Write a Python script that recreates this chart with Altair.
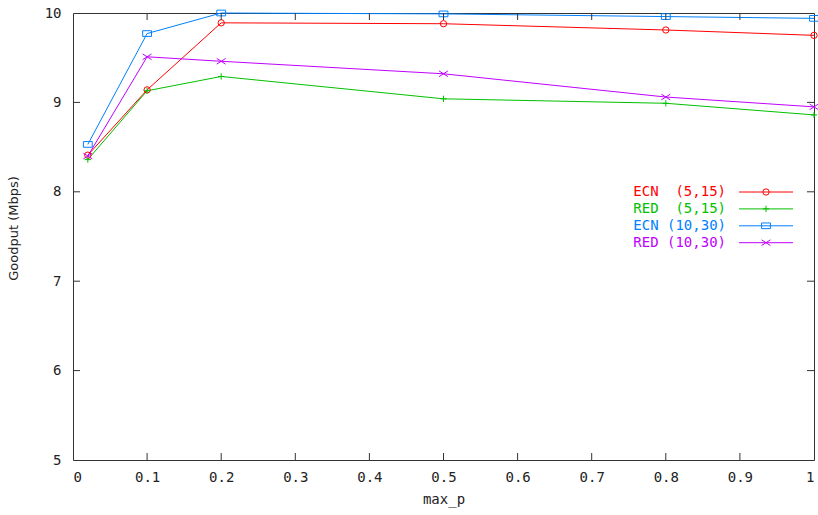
import altair as alt
import pandas as pd

# max_p settings on the x axis
max_p = [0.02, 0.1, 0.2, 0.5, 0.8, 1.0]

# Goodput (Mbps) for each queue configuration
series_names = ["ECN\u00a0\u00a0(5,15)", "RED\u00a0\u00a0(5,15)", "ECN\u00a0(10,30)", "RED\u00a0(10,30)"]
ecn_5_15 = [8.41, 9.14, 9.89, 9.88, 9.81, 9.75]
red_5_15 = [8.36, 9.13, 9.29, 9.04, 8.99, 8.86]
ecn_10_30 = [8.53, 9.77, 10.0, 9.99, 9.96, 9.94]
red_10_30 = [8.40, 9.51, 9.46, 9.32, 9.06, 8.95]

x_ticks = [0, 0.1, 0.2, 0.3, 0.4, 0.5, 0.6, 0.7, 0.8, 0.9, 1.0]
y_ticks = [5, 6, 7, 8, 9, 10]

colors = ["#ff0000", "#00c000", "#0080ff", "#c000ff"]
shapes = [
    "circle",
    "M-1,0L1,0M0,-1L0,1",
    "M-1.4,-0.9L1.4,-0.9L1.4,0.9L-1.4,0.9Z",
    "M-1.4,-0.9L1.4,0.9M-1.4,0.9L1.4,-0.9",
]

W, H = 741, 447
MONO = "DejaVu Sans Mono"

rows = []
for name, vals in zip(series_names, [ecn_5_15, red_5_15, ecn_10_30, red_10_30]):
    for xv, yv in zip(max_p, vals):
        rows.append({"series": name, "max_p": xv, "goodput": yv})
df = pd.DataFrame(rows)

color_scale = alt.Scale(domain=series_names, range=colors)
shape_scale = alt.Scale(domain=series_names, range=shapes)
x_scale = alt.Scale(domain=[0, 1], nice=False, zero=False)
y_scale = alt.Scale(domain=[5, 10], nice=False, zero=False)

base = alt.Chart(df)

lines = base.mark_line(strokeWidth=1).encode(
    x=alt.X(
        "max_p:Q",
        scale=x_scale,
        axis=alt.Axis(values=x_ticks, format="~g", title="max_p"),
    ),
    y=alt.Y(
        "goodput:Q",
        scale=y_scale,
        axis=alt.Axis(values=y_ticks, format="d", title="Goodput (Mbps)",
                      titleX=-53, titleY=215),
    ),
    color=alt.Color("series:N", scale=color_scale, legend=None),
    detail="series:N",
)

points = base.mark_point(filled=False, size=40, strokeWidth=1, opacity=1).encode(
    x="max_p:Q",
    y="goodput:Q",
    color=alt.Color("series:N", scale=color_scale, legend=None),
    shape=alt.Shape("series:N", scale=shape_scale, legend=None),
)

# inward tick marks on all four sides of the frame
xt = alt.Chart(pd.DataFrame({"t": x_ticks[1:-1]}))
yt = alt.Chart(pd.DataFrame({"t": y_ticks[1:-1]}))
tick_color = "#333333"
ticks = [
    xt.mark_rule(color=tick_color).encode(x="t:Q", y=alt.value(H), y2=alt.value(H - 7)),
    xt.mark_rule(color=tick_color).encode(x="t:Q", y=alt.value(0), y2=alt.value(7)),
    yt.mark_rule(color=tick_color).encode(y="t:Q", x=alt.value(0), x2=alt.value(7)),
    yt.mark_rule(color=tick_color).encode(y="t:Q", x=alt.value(W), x2=alt.value(W - 7)),
]

# key inside the plot: label, line sample and marker per series
key_layers = []
for i, name in enumerate(series_names):
    ry = 179 + i * 16.9
    kd = alt.Chart(pd.DataFrame({"series": [name]}))
    key_layers.append(
        kd.mark_text(align="right", baseline="middle", font=MONO, fontSize=14).encode(
            x=alt.value(653), y=alt.value(ry), text="series:N",
            color=alt.Color("series:N", scale=color_scale, legend=None),
        )
    )
    key_layers.append(
        kd.mark_rule(strokeWidth=1).encode(
            x=alt.value(666), x2=alt.value(720), y=alt.value(ry),
            color=alt.Color("series:N", scale=color_scale, legend=None),
        )
    )
    key_layers.append(
        kd.mark_point(filled=False, size=40, strokeWidth=1, opacity=1).encode(
            x=alt.value(693), y=alt.value(ry),
            color=alt.Color("series:N", scale=color_scale, legend=None),
            shape=alt.Shape("series:N", scale=shape_scale, legend=None),
        )
    )

chart = alt.layer(lines, points, *ticks, *key_layers).properties(
    width=W,
    height=H,
    background="white",
    autosize=alt.AutoSizeParams(type="none"),
    padding={"left": 73, "top": 13, "right": 4, "bottom": 55},
).configure_view(
    stroke="#333333", strokeWidth=1
).configure_axis(
    domain=False,
    grid=False,
    ticks=False,
    labelFont=MONO,
    labelFontSize=14,
    labelColor="#222222",
    titleFont=MONO,
    titleFontSize=14,
    titleFontWeight="normal",
    titleColor="#222222",
).configure_axisX(
    labelPadding=10,
    titlePadding=8,
).configure_axisY(
    labelPadding=12,
    titleFont="DejaVu Sans",
    titleFontSize=13,
)

chart.save("out.html", embed_options={"renderer": "svg", "actions": False})
